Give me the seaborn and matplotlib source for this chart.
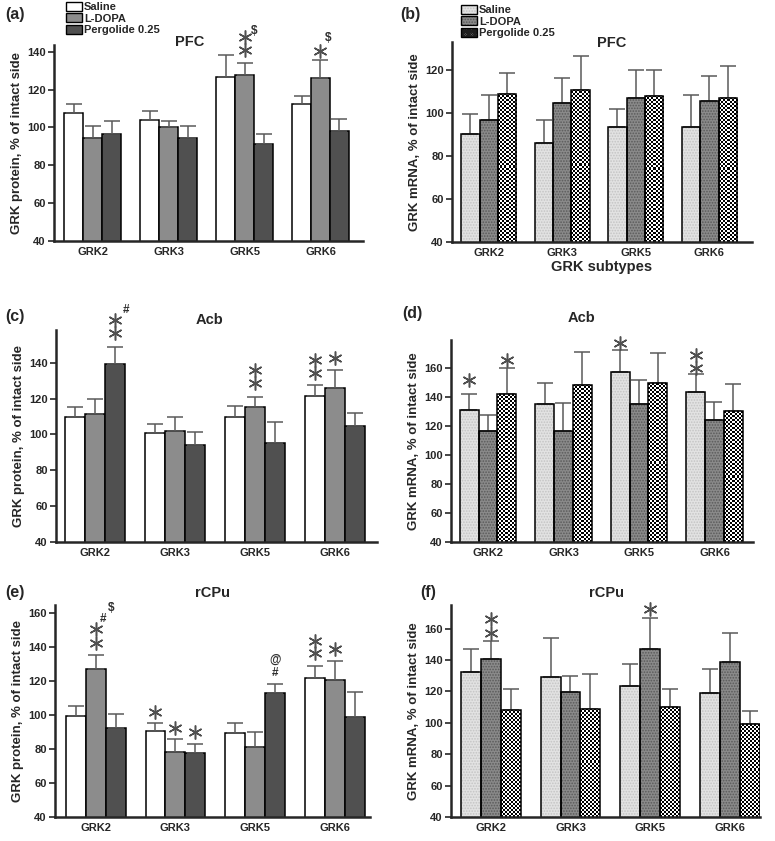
"""
GRK protein / mRNA in PFC, Acb and rCPu after Saline, L-DOPA and Pergolide.
Six bar panels (a)-(f), saved as out.png.
"""
import matplotlib
matplotlib.use("Agg")
import matplotlib.pyplot as plt
import matplotlib.patches as mpatches
from matplotlib.transforms import offset_copy
import numpy as np
import pandas as pd
import seaborn as sns

W, H = 775, 841

GENES = ["GRK2", "GRK3", "GRK5", "GRK6"]
GROUPS = ["Saline", "L-DOPA", "Pergolide 0.25"]

# ─── Data (means and upward SEM, % of intact side) ───────────────────────────
# (a) PFC protein
PFC_PROT_SAL = [107.4, 103.8, 126.6, 112.6]
PFC_PROT_SAL_ERR = [5.2, 4.9, 11.4, 4.2]
PFC_PROT_LDOPA = [94.2, 100.0, 127.4, 126.3]
PFC_PROT_LDOPA_ERR = [6.6, 3.5, 6.8, 9.1]
PFC_PROT_PERG = [96.3, 94.2, 91.2, 98.0]
PFC_PROT_PERG_ERR = [7.2, 6.5, 5.3, 6.5]

# (b) PFC mRNA
PFC_MRNA_SAL = [90.3, 86.0, 93.4, 93.4]
PFC_MRNA_SAL_ERR = [9.2, 10.9, 8.3, 15.1]
PFC_MRNA_LDOPA = [96.9, 104.5, 106.8, 105.4]
PFC_MRNA_LDOPA_ERR = [11.4, 11.7, 13.2, 11.9]
PFC_MRNA_PERG = [109.0, 110.7, 108.0, 107.0]
PFC_MRNA_PERG_ERR = [9.5, 15.7, 12.0, 14.8]

# (c) Acb protein
ACB_PROT_SAL = [109.9, 100.9, 109.9, 121.2]
ACB_PROT_SAL_ERR = [5.6, 5.1, 5.9, 6.5]
ACB_PROT_LDOPA = [111.2, 101.7, 115.5, 125.7]
ACB_PROT_LDOPA_ERR = [8.4, 8.2, 5.5, 10.2]
ACB_PROT_PERG = [139.3, 93.9, 95.5, 104.7]
ACB_PROT_PERG_ERR = [9.7, 7.6, 11.5, 7.4]

# (d) Acb mRNA
ACB_MRNA_SAL = [130.8, 135.1, 156.9, 143.4]
ACB_MRNA_SAL_ERR = [11.2, 14.5, 14.9, 12.1]
ACB_MRNA_LDOPA = [116.6, 116.3, 135.1, 123.9]
ACB_MRNA_LDOPA_ERR = [11.0, 19.3, 16.5, 12.6]
ACB_MRNA_PERG = [141.8, 148.2, 149.4, 129.9]
ACB_MRNA_PERG_ERR = [17.9, 22.3, 20.4, 19.0]

# (e) rCPu protein
CPU_PROT_SAL = [99.8, 91.0, 89.4, 121.8]
CPU_PROT_SAL_ERR = [5.6, 4.3, 5.9, 7.4]
CPU_PROT_LDOPA = [127.3, 78.2, 81.2, 120.6]
CPU_PROT_LDOPA_ERR = [8.2, 7.7, 8.8, 11.2]
CPU_PROT_PERG = [92.2, 78.0, 113.2, 98.8]
CPU_PROT_PERG_ERR = [8.8, 4.9, 5.3, 14.7]

# (f) rCPu mRNA
CPU_MRNA_SAL = [132.3, 129.3, 123.2, 118.9]
CPU_MRNA_SAL_ERR = [14.6, 24.4, 14.2, 15.3]
CPU_MRNA_LDOPA = [140.3, 119.8, 146.9, 138.9]
CPU_MRNA_LDOPA_ERR = [11.5, 10.2, 20.1, 18.2]
CPU_MRNA_PERG = [108.3, 108.8, 109.8, 99.0]
CPU_MRNA_PERG_ERR = [13.2, 22.4, 11.7, 8.3]

# significance marks: (gene idx, group idx, mark, dx px, dy px above cap)
PFC_PROT_MARKS = [(2, 1, "*", 0, 13), (2, 1, "*", 0, 25.7), (2, 1, "$", 9.7, 32),
                  (3, 1, "*", 0, 9.5), (3, 1, "$", 7.5, 22)]
PFC_MRNA_MARKS = []
ACB_PROT_MARKS = [(0, 2, "*", 0, 13.7), (0, 2, "*", 0, 26.7), (0, 2, "#", 10.5, 36.7),
                  (2, 1, "*", 0, 13.7), (2, 1, "*", 0, 26.7),
                  (3, 0, "*", 0, 11.7), (3, 0, "*", 0, 24.7), (3, 1, "*", 0, 12)]
ACB_MRNA_MARKS = [(0, 0, "*", 0, 13.3), (0, 2, "*", 0, 7.7), (2, 0, "*", 0, 7.7),
                  (3, 0, "*", 0, 6.6), (3, 0, "*", 0, 19)]
CPU_PROT_MARKS = [(0, 1, "*", 0, 12), (0, 1, "*", 0, 26), (0, 1, "#", 7.5, 36), (0, 1, "$", 15, 47),
                  (1, 0, "*", 0, 11), (1, 1, "*", 0, 11.5), (1, 2, "*", 0, 12),
                  (2, 2, "#", 0, 10.5), (2, 2, "@", 0, 24.5),
                  (3, 0, "*", 0, 13), (3, 0, "*", 0, 25), (3, 1, "*", 0, 12.7)]
CPU_MRNA_MARKS = [(0, 1, "*", 0, 8.4), (0, 1, "*", 0, 22.4), (2, 1, "*", 0, 8.7)]

# ─── Style ────────────────────────────────────────────────────────────────────
PROT_COLORS = {"Saline": "#ffffff", "L-DOPA": "#8c8c8c", "Pergolide 0.25": "#505050"}
MRNA_COLORS = {"Saline": "#e2e2e2", "L-DOPA": "#8a8a8a", "Pergolide 0.25": "#7a7a7a"}
MRNA_HATCH = {"Saline": ("......", "#c4c4c4"),
              "L-DOPA": ("......", "#5a5a5a"),
              "Pergolide 0.25": ("x" * 14, "#1e1e1e")}
CHECK_PX = 2  # checkerboard cell size for the Pergolide mRNA bars

sns.set_style("ticks")
plt.rcParams["font.family"] = ["Liberation Sans", "DejaVu Sans"]
plt.rcParams["font.weight"] = "bold"
plt.rcParams["hatch.linewidth"] = 0.8


def px(fig, x, y):
    return x / W, 1 - y / H


def checker_fill(ax, bar, ybase):
    """Paint a fine black/white checkerboard inside one bar."""
    x0, w, h = bar.get_x(), bar.get_width(), bar.get_height()
    p0 = ax.transData.transform((x0, ybase))
    p1 = ax.transData.transform((x0 + w, h))
    nx = max(1, int(round(abs(p1[0] - p0[0]) / CHECK_PX)))
    ny = max(1, int(round(abs(p1[1] - p0[1]) / CHECK_PX)))
    yy, xx = np.indices((ny, nx))
    board = ((xx + yy) % 2).astype(float)
    im = ax.imshow(board, cmap="gray", vmin=0, vmax=1, extent=(x0, x0 + w, ybase, h),
                   aspect="auto", interpolation="nearest", origin="lower",
                   zorder=bar.get_zorder() + 0.05)
    im.set_clip_path(bar)
    bar.set_facecolor("none")


def draw_panel(fig, box, means, errs, mrna, ylim, xlim, ylabel, marks):
    l, t, r, b = box
    ax = fig.add_axes([l / W, 1 - b / H, (r - l) / W, (b - t) / H])
    df = pd.DataFrame({
        "gene": np.tile(GENES, 3),
        "group": np.repeat(GROUPS, 4),
        "value": np.concatenate(means),
    })
    palette = MRNA_COLORS if mrna else PROT_COLORS
    sns.barplot(data=df, x="gene", y="value", hue="group", order=GENES,
                hue_order=GROUPS, palette=palette, saturation=1, width=0.75,
                errorbar=None, edgecolor="black", linewidth=1.1, legend=False, ax=ax)
    ax.set_ylim(*ylim)
    ax.set_xlim(*xlim)

    caps = {}
    bar_groups = list(ax.containers)
    for gi, cont in enumerate(bar_groups):
        xs, vals = [], []
        for k, bar in enumerate(cont):
            xc = bar.get_x() + bar.get_width() / 2
            xs.append(xc)
            vals.append(bar.get_height())
            caps[(k, gi)] = (xc, bar.get_height() + errs[gi][k])
            if mrna:
                bar.set_linewidth(0)
                if GROUPS[gi] == "Pergolide 0.25":
                    checker_fill(ax, bar, ylim[0])
                else:
                    hatch, hcol = MRNA_HATCH[GROUPS[gi]]
                    bar.set_hatch(hatch)
                    bar.set_edgecolor(hcol)
                ax.add_patch(mpatches.Rectangle(
                    (bar.get_x(), bar.get_y()), bar.get_width(), bar.get_height(),
                    fill=False, edgecolor="black", linewidth=1.1, zorder=bar.get_zorder() + 0.1))
        ax.errorbar(xs, vals, yerr=[np.zeros(len(vals)), errs[gi]], fmt="none",
                    ecolor="#5a5a5a", elinewidth=1.1, capsize=5.5, capthick=1.1, zorder=1)

    for gene, grp, mark, dx, dy in marks:
        xc, cap = caps[(gene, grp)]
        trans = offset_copy(ax.transData, fig=fig, x=dx, y=dy, units="dots")
        if mark == "*":
            ax.plot([xc], [cap], linestyle="none", marker=(6, 2, 0), ms=10, mew=1.1,
                    color="#505050", transform=trans, clip_on=False)
        else:
            ax.text(xc, cap, mark, transform=trans, ha="center", va="center",
                    fontsize=8.5, fontweight="bold", color="#303030", clip_on=False)

    ax.set_ylim(*ylim)
    ax.set_xlim(*xlim)
    ax.set_yticks(np.arange(40, ylim[1] + 0.1, 20))
    ax.set_xlabel("")
    ax.set_ylabel(ylabel, fontsize=9.5, fontweight="bold", labelpad=3)
    ax.tick_params(axis="y", direction="out", length=4, width=1.2, labelsize=8, pad=2)
    ax.tick_params(axis="x", length=0, labelsize=8, pad=4)
    sns.despine(ax=ax)
    for side in ("left", "bottom"):
        ax.spines[side].set_linewidth(1.8)
    return ax


def legend_handles(mrna):
    handles = []
    for g in GROUPS:
        if mrna:
            hatch, hcol = MRNA_HATCH[g]
            face = "white" if g == "Pergolide 0.25" else MRNA_COLORS[g]
            handles.append((mpatches.Patch(facecolor=face, hatch=hatch,
                                           edgecolor=hcol, linewidth=0),
                            mpatches.Patch(fill=False, edgecolor="black", linewidth=1)))
        else:
            handles.append(mpatches.Patch(facecolor=PROT_COLORS[g], edgecolor="black",
                                          linewidth=1))
    return handles


def main():
    fig = plt.figure(figsize=(W / 100, H / 100), dpi=100, facecolor="white")

    prot_lab = "GRK protein, % of intact side"
    mrna_lab = "GRK mRNA, % of intact side"

    draw_panel(fig, (54, 45, 363, 241),
               [PFC_PROT_SAL, PFC_PROT_LDOPA, PFC_PROT_PERG],
               [PFC_PROT_SAL_ERR, PFC_PROT_LDOPA_ERR, PFC_PROT_PERG_ERR],
               False, (40, 143.5), (-0.51, 3.56), prot_lab, PFC_PROT_MARKS)
    axb = draw_panel(fig, (452, 42, 752, 242),
                     [PFC_MRNA_SAL, PFC_MRNA_LDOPA, PFC_MRNA_PERG],
                     [PFC_MRNA_SAL_ERR, PFC_MRNA_LDOPA_ERR, PFC_MRNA_PERG_ERR],
                     True, (40, 133), (-0.5, 3.58), mrna_lab, PFC_MRNA_MARKS)
    axb.set_xlabel("GRK subtypes", fontsize=10.5, fontweight="bold", labelpad=2)
    draw_panel(fig, (56, 330, 377, 542),
               [ACB_PROT_SAL, ACB_PROT_LDOPA, ACB_PROT_PERG],
               [ACB_PROT_SAL_ERR, ACB_PROT_LDOPA_ERR, ACB_PROT_PERG_ERR],
               False, (40, 158.3), (-0.49, 3.53), prot_lab, ACB_PROT_MARKS)
    draw_panel(fig, (451, 340, 753, 542),
               [ACB_MRNA_SAL, ACB_MRNA_LDOPA, ACB_MRNA_PERG],
               [ACB_MRNA_SAL_ERR, ACB_MRNA_LDOPA_ERR, ACB_MRNA_PERG_ERR],
               True, (40, 179), (-0.49, 3.51), mrna_lab, ACB_MRNA_MARKS)
    draw_panel(fig, (55, 605, 370, 817),
               [CPU_PROT_SAL, CPU_PROT_LDOPA, CPU_PROT_PERG],
               [CPU_PROT_SAL_ERR, CPU_PROT_LDOPA_ERR, CPU_PROT_PERG_ERR],
               False, (40, 165), (-0.51, 3.44), prot_lab, CPU_PROT_MARKS)
    draw_panel(fig, (451, 605, 760, 817),
               [CPU_MRNA_SAL, CPU_MRNA_LDOPA, CPU_MRNA_PERG],
               [CPU_MRNA_SAL_ERR, CPU_MRNA_LDOPA_ERR, CPU_MRNA_PERG_ERR],
               True, (40, 175), (-0.5, 3.38), mrna_lab, CPU_MRNA_MARKS)

    # region titles
    for x, y, txt in [(190, 42, "PFC"), (612, 43, "PFC"), (210, 320, "Acb"),
                      (582, 318, "Acb"), (212, 593, "rCPu"), (607, 593, "rCPu")]:
        fig.text(*px(fig, x, y), txt, ha="center", va="center", fontsize=10.5, fontweight="bold")

    # panel letters
    for x, y, txt in [(5, 15, "(a)"), (400, 15, "(b)"), (5, 317, "(c)"),
                      (402, 313, "(d)"), (5, 593, "(e)"), (420, 593, "(f)")]:
        fig.text(*px(fig, x, y), txt, ha="left", va="center", fontsize=11.5, fontweight="bold")

    leg_kw = dict(loc="upper left", frameon=False, fontsize=8, handlelength=1.45,
                  handleheight=0.85, handletextpad=0.15, labelspacing=0.1,
                  borderpad=0, borderaxespad=0)
    fig.legend(legend_handles(False), GROUPS, bbox_to_anchor=px(fig, 66, 2), **leg_kw)
    fig.legend(legend_handles(True), GROUPS, bbox_to_anchor=px(fig, 461, 5), **leg_kw)

    fig.savefig("out.png", dpi=100, facecolor="white")
    plt.close(fig)


if __name__ == "__main__":
    main()
